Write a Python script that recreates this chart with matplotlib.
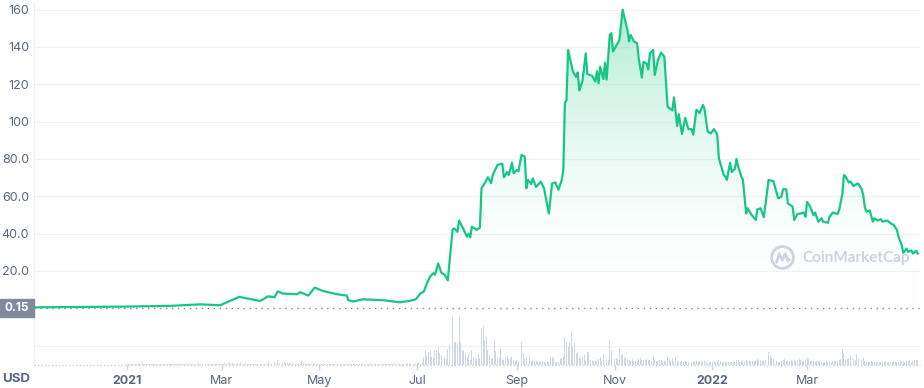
import numpy as np
import matplotlib
matplotlib.use('Agg')
import matplotlib.pyplot as plt
from matplotlib.patches import Circle, Rectangle
from matplotlib.colors import LinearSegmentedColormap

plt.rcParams['font.family'] = ['Inter', 'DejaVu Sans']

# price, days counted from 2021-01-01
days = [-58, -29, 0, 27, 46, 58, 70, 83, 88, 92,
        94, 97, 106, 108, 113, 117, 122, 131, 137, 138,
        141, 147, 160, 170, 176, 180, 183, 185, 187, 189,
        191, 192, 194, 196, 198, 200, 201, 203, 204, 206,
        207, 209, 212, 213, 214, 215, 218, 220, 221, 223,
        225, 227, 228, 231, 234, 235, 237, 238, 240, 241,
        243, 244, 246, 248, 249, 250, 252, 253, 255, 258,
        260, 263, 265, 267, 269, 271, 272, 273, 274, 275,
        278, 280, 281, 282, 284, 286, 287, 290, 292, 293,
        294, 295, 297, 298, 299, 301, 302, 303, 305, 307,
        309, 312, 313, 314, 316, 318, 319, 321, 322, 324,
        325, 326, 328, 329, 331, 333, 335, 337, 340, 341,
        343, 344, 346, 348, 350, 352, 353, 355, 357, 359,
        360, 362, 364, 366, 368, 369, 372, 373, 374, 376,
        377, 379, 380, 381, 383, 384, 386, 387, 389, 392,
        393, 395, 397, 400, 403, 404, 406, 408, 409, 411,
        412, 415, 416, 418, 420, 422, 423, 424, 426, 428,
        429, 431, 433, 434, 437, 438, 440, 443, 444, 446,
        447, 448, 450, 451, 453, 455, 456, 458, 459, 460,
        461, 463, 465, 466, 468, 470, 471, 474, 476, 478,
        480, 481, 483, 484, 486, 487, 489, 490, 492, 493]
price = [0.5, 0.7, 0.9, 1.3, 2.1, 1.6, 6.1, 3.9, 6.4, 5.9,
         9.1, 7.9, 7.5, 8.6, 6.8, 11.1, 9.3, 7.5, 6.8, 4.3,
         3.6, 4.8, 4.3, 3.2, 3.9, 4.8, 8.0, 8.9, 13.4, 17.0,
         18.8, 18.0, 24.0, 19.0, 18.0, 15.0, 24.3, 42.2, 42.8, 41.0,
         47.0, 43.7, 38.3, 40.0, 38.0, 43.7, 42.0, 43.2, 64.3, 67.0,
         70.2, 67.0, 71.4, 76.8, 77.5, 70.2, 73.0, 71.4, 78.0, 72.4,
         74.0, 73.4, 82.2, 81.2, 64.3, 68.8, 66.6, 69.6, 65.0, 67.8,
         64.3, 50.8, 66.8, 67.5, 63.5, 68.6, 74.0, 110.0, 111.6, 138.4,
         126.9, 124.0, 126.4, 116.7, 122.0, 136.6, 125.5, 124.5, 121.5, 127.0,
         120.6, 129.4, 122.8, 131.6, 122.5, 146.5, 147.4, 137.6, 140.6, 143.8,
         160.0, 149.0, 143.0, 146.5, 143.0, 142.0, 134.0, 123.6, 132.0, 131.0,
         128.0, 136.6, 138.4, 125.0, 133.0, 137.0, 134.8, 108.0, 106.0, 113.0,
         97.7, 104.0, 93.4, 102.0, 96.0, 96.0, 93.0, 106.4, 104.6, 109.0,
         107.0, 94.7, 93.7, 96.0, 93.0, 80.4, 71.5, 70.6, 68.8, 78.0,
         73.0, 74.8, 80.0, 76.0, 70.6, 68.8, 50.8, 53.6, 50.5, 47.3,
         53.0, 53.6, 48.8, 68.8, 68.0, 65.0, 58.9, 59.8, 63.8, 63.8,
         56.2, 54.4, 47.3, 50.5, 50.8, 51.3, 49.0, 57.0, 54.3, 49.8,
         51.3, 46.4, 48.2, 46.4, 45.8, 49.0, 51.3, 50.5, 52.6, 61.5,
         71.4, 70.6, 67.4, 67.9, 65.5, 66.7, 66.7, 63.8, 60.7, 54.3,
         51.7, 52.5, 46.4, 48.2, 47.0, 47.7, 46.4, 47.0, 45.6, 44.6,
         42.0, 38.3, 33.8, 29.7, 32.0, 30.2, 31.0, 29.3, 30.8, 29.3]

# daily volume (relative), first bar on day -58
volume = [
    0.5, 0.5, 0.5, 0.5, 0.5, 0.5, 0.5, 0.5, 0.5, 0.5, 0.5, 0.5, 0.5, 0.5, 0.5, 0.5, 0.5, 0.5, 0.5, 0.5,
    0.5, 0.5, 0.5, 0.5, 0.5, 0.5, 0.5, 0.5, 0.5, 0.5, 0.5, 0.5, 0.5, 0.5, 0.5, 0.5, 0.5, 0.5, 0.5, 0.5,
    0.5, 0.5, 0.5, 0.5, 0.5, 0.5, 0.5, 0.5, 0.5, 0.5, 0.5, 0.5, 0.5, 0.5, 0.5, 0.5, 0.5, 0.5,
    0.7, 0.7, 0.7, 0.7, 0.7, 0.7, 1.0, 0.7, 0.7, 0.7, 0.7, 0.7, 0.7, 0.7, 1.0, 0.7, 0.7, 0.7, 0.7, 0.7,
    0.7, 0.7, 0.7, 0.7, 1.0, 0.7, 0.7, 0.7, 0.7, 0.7, 0.7, 0.7, 0.7, 0.7, 0.7, 1.0, 0.7, 0.7, 0.7, 0.7,
    0.7, 0.7, 0.7, 0.7, 1.0, 0.7, 0.7, 0.7, 0.7, 0.7, 1.0, 1.0, 0.7, 0.7, 1.0, 1.0, 1.0, 1.0, 1.0, 1.0,
    1.5, 2.0, 1.5, 2.0, 2.0, 1.5, 2.0, 1.5, 1.5, 2.0, 1.5, 2.0, 1.5, 1.5, 1.0, 1.0,
    1.0, 1.0, 1.0, 1.3, 1.0, 1.0, 1.0, 1.3, 1.0, 1.0, 1.0, 1.5,
    3.0, 1.5, 1.5, 1.5, 2.0, 1.5, 5.0, 2.0, 1.5, 2.5, 3.0, 2.5, 2.0, 2.5, 2.0,
    1.5, 1.5, 1.5, 1.5, 1.5, 1.5, 4.0, 2.0, 1.5, 1.5, 1.5, 1.5, 1.5, 1.5, 2.5,
    1.5, 1.2, 1.2, 1.0, 1.0, 1.2, 1.0, 1.0, 1.3, 1.0, 1.0, 1.2, 1.0, 1.0, 1.0, 1.3, 1.0, 1.0, 1.0, 1.2,
    1.0, 1.0, 1.2, 1.0, 1.0, 1.0, 1.3, 1.0, 1.0, 1.0, 1.0, 1.2, 1.0, 1.0, 1.0, 1.0, 1.3, 1.0, 1.0, 1.0,
    1.0, 1.0, 1.2, 1.0, 1.0, 1.0, 1.0, 1.0, 1.2, 1.0, 1.0, 1.0, 1.0, 1.0, 1.3, 1.3, 1.5, 2.0, 2.0, 1.5,
    1.0, 1.3, 1.5,
    2.3, 2.3, 2.3, 3.3, 8.3, 15, 9, 13.3, 14.3, 8.3,
    6.7, 15, 15, 17.7, 12.3, 10, 9, 7.7, 6, 16,
    20, 56, 48.3, 23, 22.7, 21.7, 48.3, 23, 15, 14.3,
    12.3, 7.7, 11, 5, 15, 8.3, 5.7, 5.7, 11, 6.7,
    36, 39, 25, 28.3, 15, 9, 5.7, 6.7, 26, 14.3,
    7.7, 6.7, 15.7, 5.7, 5, 6.7, 9, 5.7, 6.7, 7.7,
    5, 4.3, 5, 4.3, 5, 23, 12.3, 5.7, 7.7, 10,
    10, 4.3, 4, 4, 4, 3.3, 3.3, 2.7, 4, 2.7,
    3.3, 4, 3.3, 8.3, 6.7, 7.7, 3.3, 3.3, 3.3, 5.7,
    6.7, 8.3, 28.3, 23, 17.7, 23, 34, 18.3, 21.7, 11.7,
    13.3, 6.7, 5.7, 8.3, 10, 5, 12.7, 12.7, 5, 4.3,
    4.3, 4, 4, 5.7, 7.7,
    4, 11, 6.7, 5.7, 5, 25, 15, 7.7, 5.7, 6.7,
    5.7, 17.3, 10, 11, 6.7, 8.3, 5.7, 5, 4.3, 5.7,
    4, 4, 4, 5.7, 6.7, 5, 5, 5, 5.7, 5,
    5, 4, 9, 5.7, 4, 4, 5, 5, 4.3, 4, 4.3,
    7.7, 5.7, 4.3, 6.7, 4.3, 7.7, 4.3, 3.3, 3.3, 4.3,
    3.3, 4, 3.3, 3, 3, 3, 3.3, 4, 4, 3.3,
    4, 4, 3, 4, 3.3, 2.3, 3, 2.7, 3, 3.3,
    3, 3.3, 5, 4, 3, 3.3, 3.3, 3.3, 3, 3.3, 3.3,
    4, 3, 5, 5, 3, 4, 3.3, 4.3, 5, 4,
    4, 4.3, 4.3, 4.3, 5, 5.7, 5, 4.3, 4.3, 4,
    5, 6.7, 13.3, 9, 6.7, 5.7, 5, 4.3, 3.3, 3.3,
    4, 5, 5.7, 4, 3.3, 4.3, 5, 4, 5, 4, 4.7,
    5.7, 5, 4, 4.3, 5.7, 6.7, 5.7, 4.3, 4, 4,
    3.3, 4, 3.3, 4, 3.3, 3.3, 3, 4, 3.3, 4,
    3.3, 4, 4.3, 4, 4.3, 5, 5.7, 16, 12.3, 5.7,
    5.7, 6.7, 9, 6.7, 5.7, 5, 11, 5.7, 5, 5,
    6.7, 4, 3.3, 3, 3.3, 4, 3.3, 3, 2.7, 3, 3,
    2.7, 3.3, 3, 4, 3.3, 2.7, 3.3, 3, 4, 3.3,
    3, 3.3, 4, 3, 4, 3.3, 4, 4.3, 5, 3.3,
    4.3, 5, 5, 5]
vol_start = -58

tick_dates = ['2021-01-01', '2021-03-01', '2021-05-01', '2021-07-01',
              '2021-09-01', '2021-11-01', '2022-01-01', '2022-03-01']
tick_labels = ['2021', 'Mar', 'May', 'Jul', 'Sep', 'Nov', '2022', 'Mar']
y_ticks = [20, 40, 60, 80, 100, 120, 140, 160]
y_labels = ['20.0', '40.0', '60.0', '80.0', '100', '120', '140', '160']
grid_levels = [-20, 20, 40, 60, 80, 100, 120, 140, 160]
last_price = 0.15

GREEN = '#16c784'
TXT = '#58667e'
MARK = '#cdd3df'

W, H = 924, 388
fig = plt.figure(figsize=(W / 100, H / 100), dpi=100)
ax = fig.add_axes([34 / W, 23 / H, 886 / W, 363 / H])
xmin, xmax = -58, 494.4
ymin, ymax = -30.4, 164.1

for g in grid_levels:
    ax.axhline(g, color='#eff2f5', lw=0.9, zorder=0)

# gradient fill under the line
poly = ax.fill_between(days, price, 0, color='none', lw=0)
cmap = LinearSegmentedColormap.from_list('fade', [(1, 1, 1, 0), (22 / 255, 199 / 255, 132 / 255, 0.35)])
grad = np.linspace(0, 1, 256).reshape(-1, 1)
img = ax.imshow(grad, extent=[xmin, xmax, 0, 160], origin='lower', cmap=cmap,
                aspect='auto', zorder=1, interpolation='bilinear')
img.set_clip_path(poly.get_paths()[0], transform=ax.transData)

ax.plot(days, price, color=GREEN, lw=1.6, zorder=4, solid_joinstyle='round')
ax.axhline(last_price, color='#808a9d', lw=1, ls=(0, (1, 3.3)), zorder=3)
ax.axhline(ymin, color='#c5ccd9', lw=1, ls=(0, (1, 1.5)), zorder=3, clip_on=False)

ax.set_xlim(xmin, xmax)
ax.set_ylim(ymin, ymax)

ax.set_yticks(y_ticks)
ax.set_yticklabels(y_labels)
ax.tick_params(axis='y', length=0, pad=3.5, labelsize=9, labelcolor=TXT)

tick_pos = (np.array(tick_dates, dtype='datetime64[D]') - np.datetime64('2021-01-01')).astype(int)
ax.set_xticks(tick_pos)
ax.set_xticklabels(tick_labels)
ax.tick_params(axis='x', length=3.5, width=1, color='#cfd6e4', pad=4, labelsize=9, labelcolor=TXT)
for lab in ax.get_xticklabels():
    if lab.get_text().isdigit():
        lab.set_fontweight('bold')

for s in ['top', 'right', 'bottom']:
    ax.spines[s].set_visible(False)
ax.spines['left'].set_color('#eff2f5')
ax.spines['left'].set_linewidth(0.9)

# volume bars
axv = ax.twinx()
vol_days = np.arange(len(volume)) + vol_start
axv.bar(vol_days, volume, width=0.6, color='#cfd6e4', lw=0)
axv.set_ylim(0, 363)
axv.set_xlim(xmin, xmax)
axv.axis('off')

# current price tag and currency label
fig.patches.append(Rectangle((0, (H - 317) / H), 34 / W, 18 / H, transform=fig.transFigure,
                             color='#808a9d', zorder=5))
fig.text(17 / W, (H - 308) / H, '0.15', color='white', fontsize=8.5, fontweight='bold',
         ha='center', va='center', zorder=6)
fig.text(16 / W, (H - 379) / H, 'USD', color=TXT, fontsize=9.5, fontweight='bold',
         ha='center', va='center')

# watermark
fig.text(802 / W, (H - 258) / H, 'CoinMarketCap', color=MARK, fontsize=11,
         family=['Lato', 'DejaVu Sans'], fontweight='bold', ha='left', va='center', zorder=6)
lax = fig.add_axes([770 / W, (H - 270) / H, 25 / W, 25 / H])
lax.add_patch(Circle((0, 0), 1, fill=False, lw=2, ec=MARK))
lax.plot([-0.55, -0.3, 0.0, 0.25, 0.5, 0.62], [-0.45, 0.35, -0.25, 0.35, -0.3, -0.2],
         color=MARK, lw=2, solid_capstyle='round')
lax.set_xlim(-1.15, 1.15)
lax.set_ylim(-1.15, 1.15)
lax.axis('off')

fig.savefig('out.png', dpi=100)
